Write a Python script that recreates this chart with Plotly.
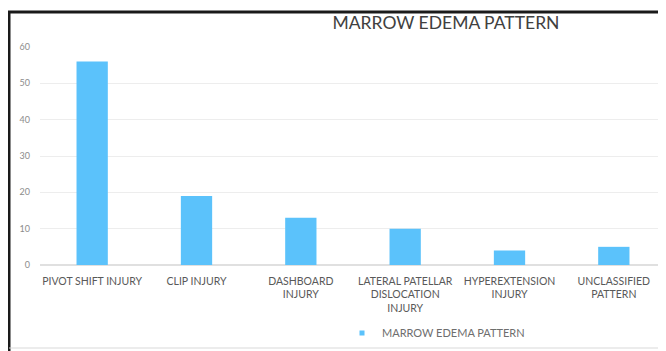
import plotly.graph_objects as go

categories = ["PIVOT SHIFT INJURY", "CLIP INJURY", "DASHBOARD<br>INJURY",
              "LATERAL PATELLAR<br>DISLOCATION<br>INJURY", "HYPEREXTENSION<br>INJURY",
              "UNCLASSIFIED<br>PATTERN"]
values = [56, 19, 13, 10, 4, 5]
series_name = "MARROW EDEMA PATTERN"
y_ticks = [0, 10, 20, 30, 40, 50, 60]

W, H = 666, 351
OFF = 8  # page body margin shifts the figure in the screenshot
# target plot area in screen pixels
SL, SR, ST, SB = 40, 666, 47, 265
L, R, T, B = SL - OFF, W - (SR - OFF), ST - OFF, H - (SB - OFF)
pw, ph = W - L - R, H - T - B
BAR_COLOR = "#5BC2FB"

def px(x):
    return (x - SL) / pw

def py(y):
    return (SB - y) / ph

fig = go.Figure()
fig.add_trace(go.Bar(x=categories, y=values, name=series_name, showlegend=False,
                     marker=dict(color=BAR_COLOR, line=dict(width=0))))
# legend entry with a small square swatch
fig.add_trace(go.Scatter(x=[None], y=[None], mode="markers", name=series_name,
                         marker=dict(symbol="square", size=5, color=BAR_COLOR)))

fig.update_layout(
    width=W, height=H,
    margin=dict(l=L, r=R, t=T, b=B, autoexpand=False),
    paper_bgcolor="white", plot_bgcolor="white",
    font=dict(family="Lato, Carlito, sans-serif", color="#595959", size=9),
    bargap=0.7,
    showlegend=True,
    title=dict(text="MARROW EDEMA PATTERN", x=px(446), xref="paper", xanchor="center",
               y=1 - (23 - OFF) / H, yanchor="middle",
               font=dict(size=17.5, color="#404040", family="Lato, Carlito, sans-serif")),
    legend=dict(orientation="h", x=px(436), xanchor="center", y=py(333), yanchor="middle",
                font=dict(size=11, color="#6E6E6E"), itemwidth=30, tracegroupgap=0,
                bgcolor="rgba(0,0,0,0)"),
    xaxis=dict(showgrid=False, showline=False, ticks="outside", ticklen=6,
               tickcolor="rgba(0,0,0,0)", tickangle=0, automargin=False,
               tickfont=dict(size=10.5, color="#595959")),
    yaxis=dict(range=[0, 60], tickvals=y_ticks, showgrid=True, gridcolor="#EDEDED",
               gridwidth=1, zeroline=True, zerolinecolor="#E0E0E0", showline=False,
               automargin=False,
               tickfont=dict(size=9, color="#8C8C8C"), ticklabelstandoff=9),
    shapes=[
        dict(type="line", xref="paper", yref="paper", x0=px(9), x1=px(9), y0=py(12), y1=py(360),
             line=dict(color="#1a1a1a", width=3)),
        dict(type="line", xref="paper", yref="paper", x0=px(8), x1=px(680), y0=py(12), y1=py(12),
             line=dict(color="#1a1a1a", width=3)),
        dict(type="line", xref="paper", yref="paper", x0=px(9), x1=px(680), y0=py(348), y1=py(348),
             line=dict(color="#D9D9D9", width=1)),
    ],
)

fig.write_html("out.html")
